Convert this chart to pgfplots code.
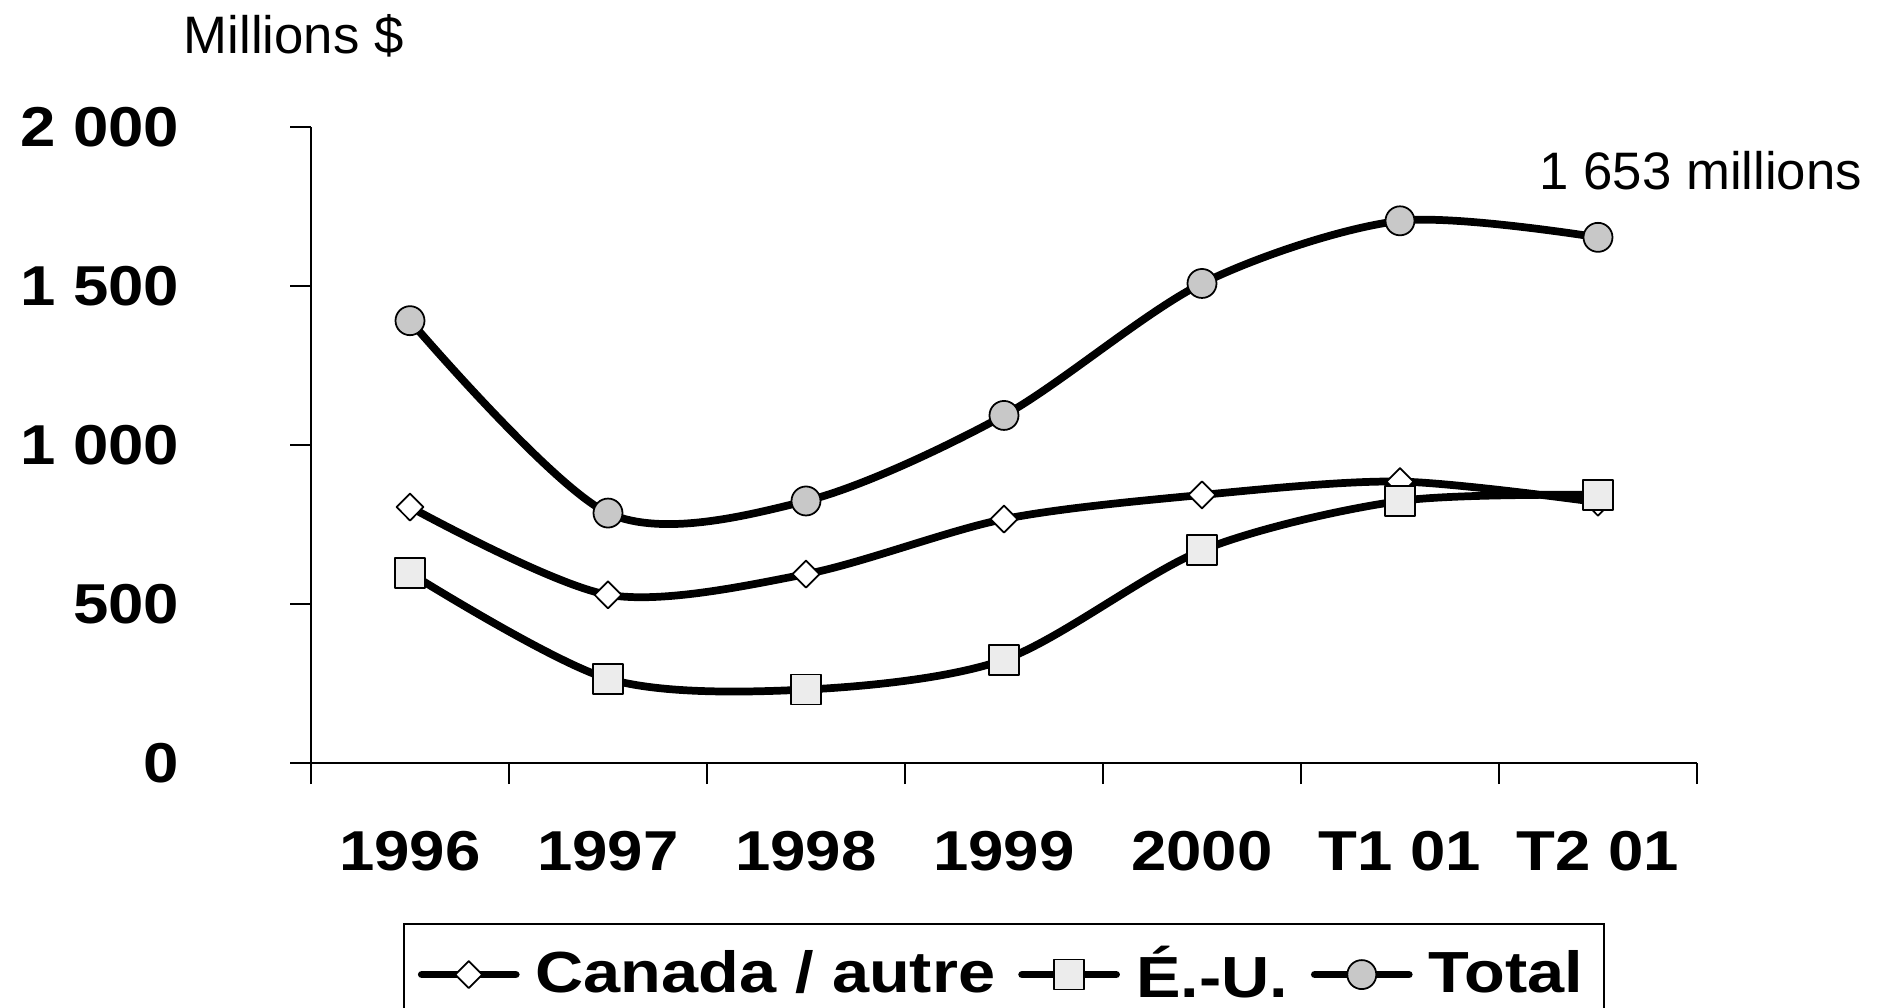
\documentclass[border=0pt]{standalone}
\usepackage{fontspec}
\setmainfont{Liberation Sans}
\newfontfamily\wb{Liberation Sans}[FakeStretch=1.13]
\newfontfamily\wbl{Liberation Sans}[FakeStretch=1.15]
\usepackage{pgfplots}
\pgfplotsset{compat=1.18}
\definecolor{totfill}{RGB}{200,200,200}
\definecolor{eufill}{RGB}{236,236,236}
\begin{document}
\begin{tikzpicture}
\useasboundingbox (0,0) rectangle (188.5mm,100.7mm);
\begin{axis}[
  at={(31.1mm,24.4mm)}, anchor=south west,
  scale only axis, width=138.6mm, height=63.6mm,
  xmin=0, xmax=7, ymin=0, ymax=2000,
  axis lines*=left,
  axis line style={line width=0.7pt},
  tick align=outside,
  major tick length=2.1mm,
  tick style={line width=0.7pt, black},
  xtick={0,...,7}, xticklabels={,,,,,,,},
  extra x ticks={0.5,1.5,2.5,3.5,4.5,5.5,6.5},
  extra x tick labels={1996,1997,1998,1999,2000,T1 01,T2 01},
  extra x tick style={major tick length=0pt, tick style={draw=none}},
  ytick={0,500,1000,1500,2000},
  yticklabels={0,500,1 000,1 500,2 000},
  tick label style={font=\fontsize{16}{18}\selectfont\wb\bfseries},
  yticklabel style={anchor=east, inner sep=0pt, xshift=-11mm},
  xticklabel style={anchor=center, inner sep=0pt, yshift=-8.8mm},
  clip=false,
  legend columns=3,
  legend style={at={(0.5,0)}, anchor=north, yshift=-16mm, draw=black, line width=0.7pt,
    font=\fontsize{16.5}{19}\selectfont\wbl\bfseries, inner xsep=1.4mm, inner ysep=1.5mm,
    column sep=0.9mm, /tikz/every even column/.append style={column sep=1.6mm}},
  legend image code/.code={\draw[mark repeat=2,mark phase=2,#1] plot coordinates {(0mm,0mm) (4.7mm,0mm) (9.4mm,0mm)};},
]
\addplot[black, line width=2.2pt, smooth, tension=0.5, line cap=round, line join=round,
  mark=diamond*, mark size=1.35mm, mark options={solid, fill=white, draw=black, line width=0.5pt, xscale=1.33}]
  coordinates {(0.5,805) (1.5,529) (2.5,594) (3.5,767) (4.5,843) (5.5,885) (6.5,820)};
\addplot[black, line width=2.2pt, smooth, tension=0.5, line cap=round, line join=round,
  mark=square*, mark size=1.5mm, mark options={solid, fill=eufill, draw=black, line width=0.5pt}]
  coordinates {(0.5,597) (1.5,265) (2.5,231) (3.5,325) (4.5,669) (5.5,824) (6.5,843)};
\addplot[black, line width=2.2pt, smooth, tension=0.5, line cap=round, line join=round,
  mark=*, mark size=1.45mm, mark options={solid, fill=totfill, draw=black, line width=0.5pt}]
  coordinates {(0.5,1391) (1.5,786) (2.5,824) (3.5,1093) (4.5,1508) (5.5,1705) (6.5,1653)};
\legend{Canada / autre, É.-U., Total}
\node[anchor=base west, inner sep=0pt, font=\fontsize{15}{18}\selectfont] at (axis cs:-0.646,2231) {Millions \$};
\node[anchor=base west, inner sep=0pt, font=\fontsize{15}{18}\selectfont] at (axis cs:6.202,1803) {1 653 millions};
\end{axis}
\end{tikzpicture}
\end{document}
